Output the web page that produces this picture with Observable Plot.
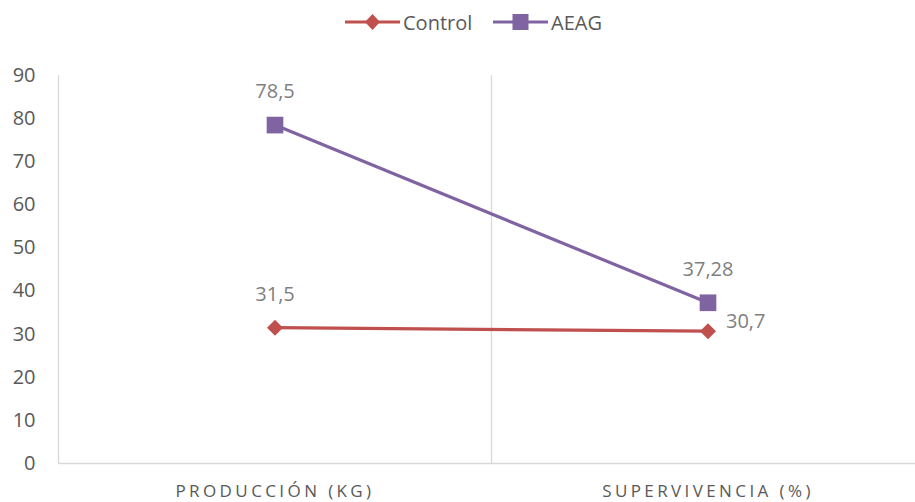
<!DOCTYPE html>
<html><head><meta charset="utf-8">
<script src="https://cdn.jsdelivr.net/npm/d3@7"></script>
<script src="https://cdn.jsdelivr.net/npm/@observablehq/plot@0.6"></script>
<style>
body{margin:0;background:#fff;font-family:"Open Sans",sans-serif;}
#legend{position:relative;height:45px;width:915px;}
.item{position:absolute;top:8px;height:28px;display:flex;align-items:center;font-size:20px;color:#595959;}
.item svg{display:block;}
.xax text{letter-spacing:3.4px;}
</style></head><body>
<div id="legend"></div>
<div id="chart"></div>
<script>
const categories = ["PRODUCCIÓN (KG)", "SUPERVIVENCIA (%)"];
const seriesNames = ["Control", "AEAG"];
const controlValues = [31.5, 30.7];
const aeagValues = [78.5, 37.28];
const yTicks = [0, 10, 20, 30, 40, 50, 60, 70, 80, 90];
const colors = ["#c0504d", "#8064a2"];
const symbols = ["diamond2", "square"];

const rows = [];
[controlValues, aeagValues].forEach((vals, s) => {
  vals.forEach((v, i) => rows.push({series: seriesNames[s], xi: i + 0.5, cat: categories[i], value: v}));
});
const fmt = v => String(v).replace(".", ",");

// Legend
const legend = document.getElementById("legend");
const legendLeft = [345, 493];
seriesNames.forEach((name, s) => {
  const div = document.createElement("div");
  div.className = "item";
  div.style.left = legendLeft[s] + "px";
  const sym = s === 0
    ? `<path d="M27.5,6 L35,14 L27.5,22 L20,14 Z" fill="${colors[s]}"/>`
    : `<rect x="19.5" y="6" width="16" height="16" fill="${colors[s]}"/>`;
  div.innerHTML = `<svg width="56" height="28"><line x1="0" x2="55" y1="14" y2="14" stroke="${colors[s]}" stroke-width="3"/>${sym}</svg><span style="margin-left:2px">${name}</span>`;
  legend.appendChild(div);
});

const chart = Plot.plot({
  width: 915,
  height: 457,
  marginTop: 30,
  marginBottom: 39,
  marginLeft: 58,
  marginRight: 0,
  style: {fontFamily: "Open Sans, sans-serif", background: "#fff"},
  x: {domain: [0, 2], range: [58, 924], label: null},
  y: {domain: [0, 90], label: null},
  color: {domain: seriesNames, range: colors},
  symbol: {domain: seriesNames, range: symbols},
  marks: [
    Plot.ruleX([0, 1], {y1: 0, y2: 90, stroke: "#d9d9d9", strokeWidth: 1.3}),
    Plot.ruleY([0], {x1: 0, x2: 2, stroke: "#d9d9d9", strokeWidth: 1.3}),
    Plot.axisY({ticks: yTicks, tickSize: 0, tickPadding: 23, fontSize: 20, color: "#595959", label: null}),
    Plot.axisX({ticks: [0.5, 1.5], tickFormat: d => categories[Math.floor(d)], tickSize: 0, tickPadding: 21, fontSize: 17, color: "#595959", className: "xax", label: null}),
    Plot.line(rows, {x: "xi", y: "value", z: "series", stroke: "series", strokeWidth: 3.2}),
    Plot.dot(rows.filter(d => d.series === "Control"), {x: "xi", y: "value", fill: "series", symbol: "series", r: 7.2}),
    Plot.dot(rows.filter(d => d.series === "AEAG"), {x: "xi", y: "value", fill: "series", symbol: "series", r: 9.4}),
    Plot.text(rows.filter(d => !(d.series === "Control" && d.xi > 1)), {x: "xi", y: "value", text: d => fmt(d.value), dy: -33, fontSize: 20, fill: "#7f7f7f"}),
    Plot.text(rows.filter(d => d.series === "Control" && d.xi > 1), {x: "xi", y: "value", text: d => fmt(d.value), dx: 18, dy: -10, textAnchor: "start", fontSize: 20, fill: "#7f7f7f"})
  ]
});
document.getElementById("chart").appendChild(chart);
</script>
</body></html>
